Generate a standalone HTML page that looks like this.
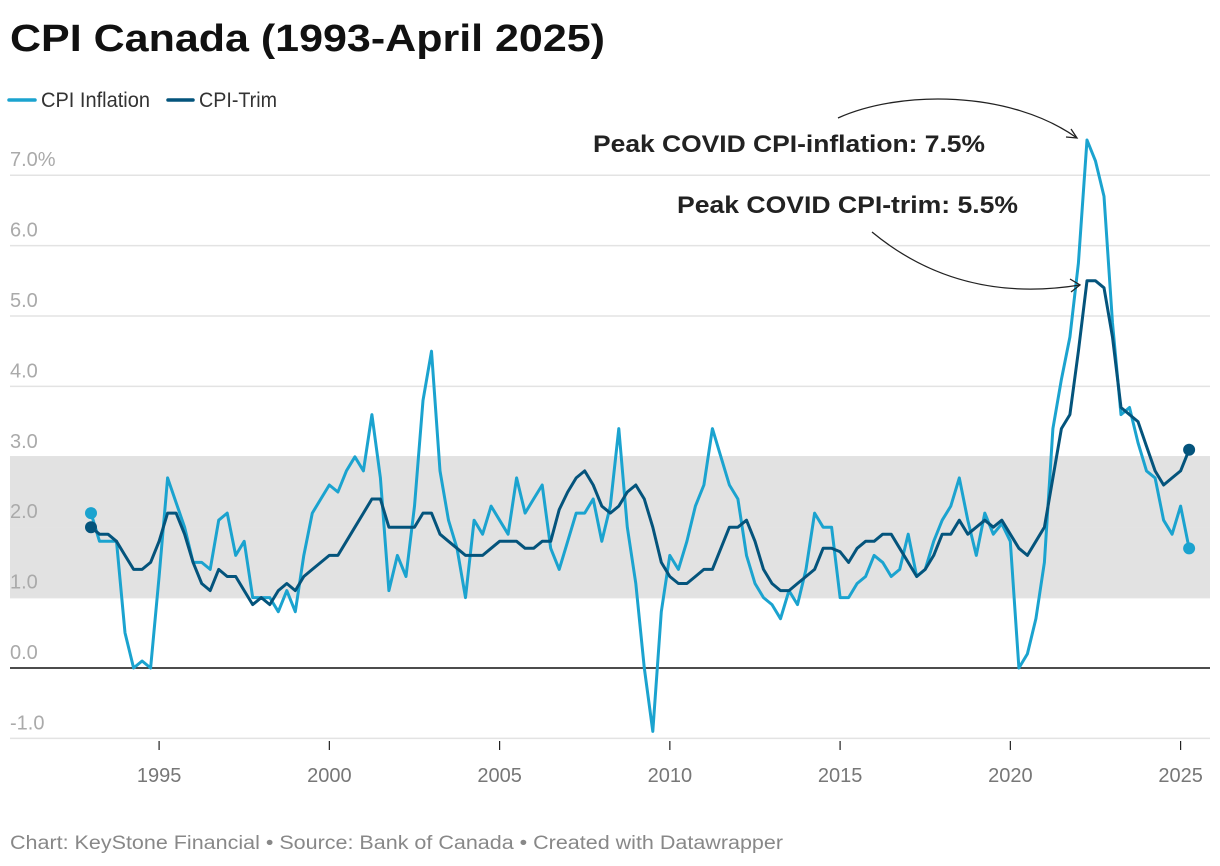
<!DOCTYPE html>
<html><head><meta charset="utf-8">
<style>
html,body{margin:0;padding:0;background:#fff;}
svg{display:block;font-family:"Liberation Sans",sans-serif;}
</style></head>
<body>
<svg id="chart" width="1220" height="866" viewBox="0 0 1220 866" xmlns="http://www.w3.org/2000/svg">
  <text x="10" y="51" font-size="38" font-weight="bold" fill="#111" textLength="595" lengthAdjust="spacingAndGlyphs">CPI Canada (1993-April 2025)</text>
  <g>
    <g>
      <line x1="9" y1="100" x2="35" y2="100" stroke="#1ba3cf" stroke-width="3.5" stroke-linecap="round"/>
      <text x="41" y="107" font-size="21" fill="#333" textLength="109" lengthAdjust="spacingAndGlyphs">CPI Inflation</text>
    </g>
    <g>
      <line x1="168" y1="100" x2="193" y2="100" stroke="#04547c" stroke-width="3.5" stroke-linecap="round"/>
      <text x="199" y="107" font-size="21" fill="#333" textLength="78" lengthAdjust="spacingAndGlyphs">CPI-Trim</text>
    </g>
  </g>
  <g id="plot"></g>
  <text x="985" y="152" font-size="24" font-weight="bold" fill="#222" text-anchor="end" textLength="392" lengthAdjust="spacingAndGlyphs">Peak COVID CPI-inflation: 7.5%</text>
  <text x="1018" y="213" font-size="24" font-weight="bold" fill="#222" text-anchor="end" textLength="341" lengthAdjust="spacingAndGlyphs">Peak COVID CPI-trim: 5.5%</text>
  <path d="M838,118 C900,90 1010,90 1077,138" fill="none" stroke="#222" stroke-width="1.3"/>
  <path d="M1066,137 L1077,138 L1071,129" fill="none" stroke="#222" stroke-width="1.3"/>
  <path d="M872,232 C930,280 1000,298 1080,285" fill="none" stroke="#222" stroke-width="1.3"/>
  <path d="M1070,279 L1080,285 L1071,292" fill="none" stroke="#222" stroke-width="1.3"/>
  <text x="10" y="849" font-size="19" fill="#888" textLength="773" lengthAdjust="spacingAndGlyphs">Chart: KeyStone Financial • Source: Bank of Canada • Created with Datawrapper</text>
</svg>
<script>
const startYear = 1993;
const cpiValues = [2.2,1.8,1.8,1.8,0.5,0.0,0.1,0.0,1.3,2.7,2.35,2.0,1.5,1.5,1.4,2.1,2.2,1.6,1.8,1.0,1.0,1.0,0.8,1.1,0.8,1.6,2.2,2.4,2.6,2.5,2.8,3.0,2.8,3.6,2.7,1.1,1.6,1.3,2.3,3.8,4.5,2.8,2.1,1.7,1.0,2.1,1.9,2.3,2.1,1.9,2.7,2.2,2.4,2.6,1.7,1.4,1.8,2.2,2.2,2.4,1.8,2.3,3.4,2.0,1.2,0.0,-0.9,0.8,1.6,1.4,1.8,2.3,2.6,3.4,3.0,2.6,2.4,1.6,1.2,1.0,0.9,0.7,1.1,0.9,1.4,2.2,2.0,2.0,1.0,1.0,1.2,1.3,1.6,1.5,1.3,1.4,1.9,1.3,1.4,1.8,2.1,2.3,2.7,2.1,1.6,2.2,1.9,2.05,1.8,0.0,0.2,0.7,1.5,3.4,4.1,4.7,5.75,7.5,7.2,6.7,4.9,3.6,3.7,3.2,2.8,2.7,2.1,1.9,2.3,1.7];
const trimValues = [2.0,1.9,1.9,1.8,1.6,1.4,1.4,1.5,1.8,2.2,2.2,1.9,1.5,1.2,1.1,1.4,1.3,1.3,1.1,0.9,1.0,0.9,1.1,1.2,1.1,1.3,1.4,1.5,1.6,1.6,1.8,2.0,2.2,2.4,2.4,2.0,2.0,2.0,2.0,2.2,2.2,1.9,1.8,1.7,1.6,1.6,1.6,1.7,1.8,1.8,1.8,1.7,1.7,1.8,1.8,2.25,2.5,2.7,2.8,2.6,2.3,2.2,2.3,2.5,2.6,2.4,2.0,1.5,1.3,1.2,1.2,1.3,1.4,1.4,1.7,2.0,2.0,2.1,1.8,1.4,1.2,1.1,1.1,1.2,1.3,1.4,1.7,1.7,1.65,1.5,1.7,1.8,1.8,1.9,1.9,1.7,1.5,1.3,1.4,1.6,1.9,1.9,2.1,1.9,2.0,2.1,2.0,2.1,1.9,1.7,1.6,1.8,2.0,2.7,3.4,3.6,4.5,5.5,5.5,5.4,4.7,3.7,3.6,3.5,3.15,2.8,2.6,2.7,2.8,3.1];
const yTicks = [-1,0,1,2,3,4,5,6,7];
const yTickLabels = ["-1.0","0.0","1.0","2.0","3.0","4.0","5.0","6.0","7.0%"];
const xTicks = [1995,2000,2005,2010,2015,2020,2025];
const targetBand = [1,3];

const NS = "http://www.w3.org/2000/svg";
const plot = document.getElementById('plot');
const x = t => 91 + (t - startYear) * 34.05;
const y = v => 668 - v * 70.4;
function mk(tag, attrs, parent){
  const e = document.createElementNS(NS, tag);
  for (const k in attrs) e.setAttribute(k, attrs[k]);
  (parent || plot).appendChild(e);
  return e;
}
const band = mk('rect', {x:10, y:y(targetBand[1]), width:1200, height:y(targetBand[0])-y(targetBand[1]), fill:'#e2e2e2'});


yTicks.forEach((v,i)=>{
  if (v !== 0) {
    const g = mk('line', {x1:10, x2:1210, y1:y(v), y2:y(v), stroke:'#e3e3e3', 'stroke-width':1.5});
    
    
  }
  const t = mk('text', {x:10, y:y(v)-9, 'font-size':20, fill:'#aaa'});
  t.textContent = yTickLabels[i];
  
  
});
const zl = mk('line', {x1:10, x2:1210, y1:y(0), y2:y(0), stroke:'#111', 'stroke-width':1.6});


xTicks.forEach(yr=>{
  const tk = mk('line', {x1:x(yr), x2:x(yr), y1:741, y2:750, stroke:'#222', 'stroke-width':1.2});
  
  
  const t = mk('text', {x:x(yr), y:782, 'font-size':20, fill:'#777', 'text-anchor':'middle'});
  t.textContent = yr;
  
  
});
function series(vals, color, name){
  const pts = vals.map((v,i)=>x(startYear + i*0.25).toFixed(1)+','+y(v).toFixed(1)).join(' ');
  const pl = mk('polyline', {points:pts, fill:'none', stroke:color, 'stroke-width':3, 'stroke-linejoin':'round'});
  
  
  const n = vals.length - 1;
  const d0 = mk('circle', {cx:x(startYear), cy:y(vals[0]), r:6, fill:color});
  
  
  const d1 = mk('circle', {cx:x(startYear + n*0.25), cy:y(vals[n]), r:6, fill:color});
  
  
}
series(cpiValues, '#1ba3cf', 'cpi-inflation');
series(trimValues, '#04547c', 'cpi-trim');
</script>
</body></html>
